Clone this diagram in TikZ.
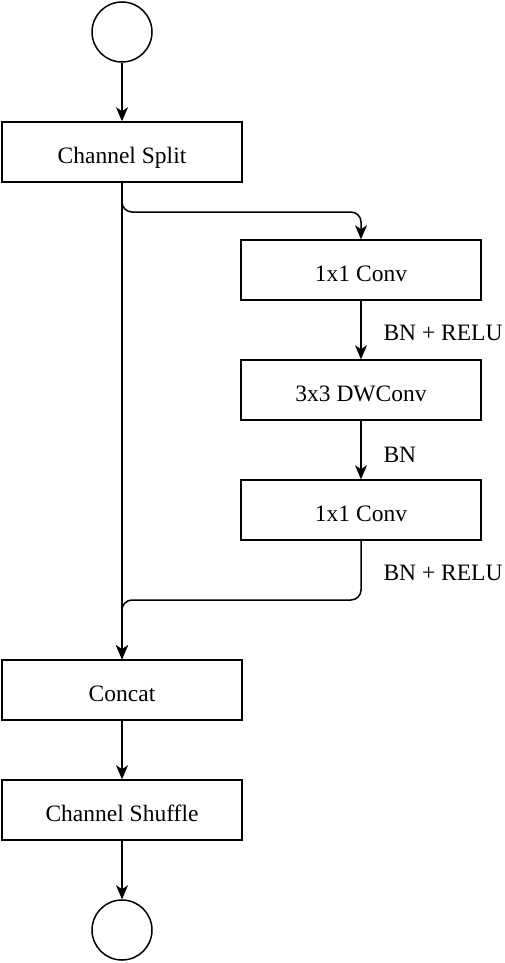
\documentclass[tikz,border=0pt]{standalone}
\usepackage{fontspec}
\setmainfont{Liberation Serif}
\usepackage{tikz}
\usetikzlibrary{arrows.meta}
\definecolor{LineBlack}{HTML}{000000}

\begin{document}
\begin{tikzpicture}[x=1pt,y=-1pt,
  every node/.style={font=\fontsize{23.5}{28}\selectfont},
  block/.style={draw=LineBlack, line width=1.5pt, minimum width=240pt, minimum height=60pt, inner sep=0pt, text height=24pt, text depth=2pt},
  port/.style={draw=LineBlack, line width=1.5pt, circle, minimum size=60pt, inner sep=0pt},
  flow/.style={draw=LineBlack, line width=1.5pt, -{Stealth[length=14pt,width=12pt,inset=4pt]}}]
  \useasboundingbox (0,0) rectangle (505,963);

  \node[port] (in) at (122,32) {};
  \node[block] (split) at (122,152) {Channel Split};

  \node[block] (conv1) at (361,270) {1x1 Conv};
  \node[block] (dwconv) at (361,390) {3x3 DWConv};
  \node[block] (conv2) at (361,510) {1x1 Conv};

  \node[block] (concat) at (122,690) {Concat};
  \node[block] (shuffle) at (122,810) {Channel Shuffle};
  \node[port] (out) at (122,930) {};

  \coordinate (branch) at (361,212);
  \coordinate (merge) at (361,600);

  \draw[flow] (in) -- (split);
  \draw[flow] (split.south) -- (concat.north);
  \draw[flow, rounded corners=10pt] (split.south) |- (branch) -- (conv1.north);
  \draw[flow] (conv1) -- (dwconv);
  \draw[flow] (dwconv) -- (conv2);
  \draw[flow, rounded corners=10pt] (conv2.south) -- (merge) -| (concat.north);
  \draw[flow] (concat) -- (shuffle);
  \draw[flow] (shuffle) -- (out);

  \node[anchor=west] (lab1) at (380,333) {BN + RELU};
  \node[anchor=west] (lab2) at (380,455) {BN};
  \node[anchor=west] (lab3) at (380,573) {BN + RELU};
\end{tikzpicture}
\end{document}
